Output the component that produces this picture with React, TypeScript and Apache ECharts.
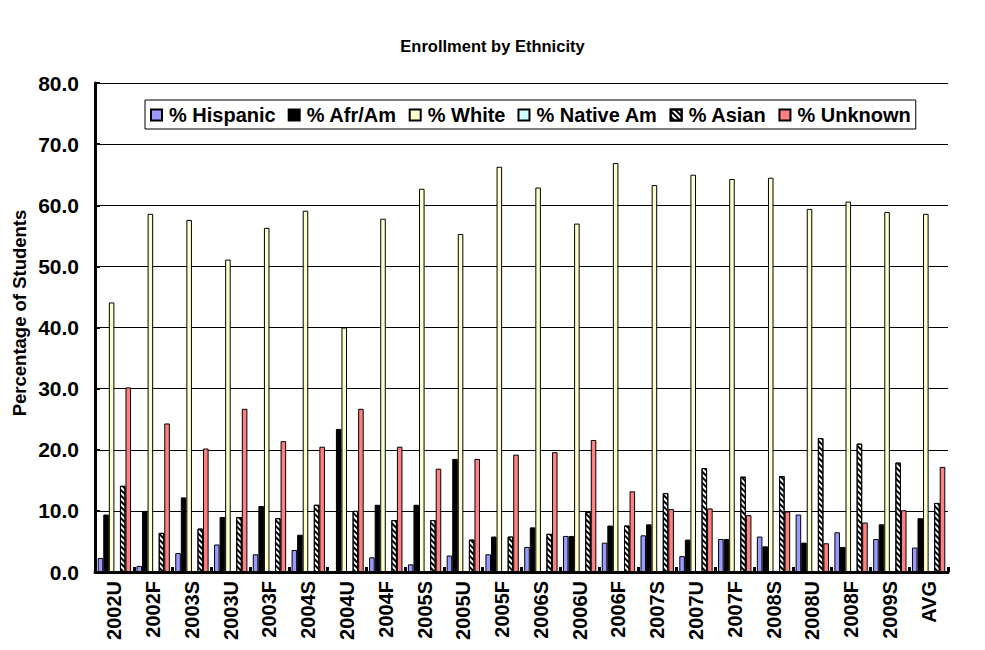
import React, { useEffect, useRef } from "react";
import * as echarts from "echarts";

const categories = ["2002U","2002F","2003S","2003U","2003F","2004S","2004U","2004F","2005S","2005U","2005F","2006S","2006U","2006F","2007S","2007U","2007F","2008S","2008U","2008F","2009S","AVG"];
const hispanic = [2.3, 1.0, 3.1, 4.5, 2.9, 3.6, 0, 2.4, 1.25, 2.7, 2.9, 4.1, 5.9, 4.8, 6.0, 2.6, 5.4, 5.8, 9.4, 6.5, 5.4, 4.0];
const afrAm = [9.4, 10.0, 12.2, 9.0, 10.8, 6.1, 23.4, 11.0, 11.0, 18.5, 5.8, 7.3, 5.9, 7.6, 7.8, 5.3, 5.4, 4.2, 4.8, 4.1, 7.8, 8.8];
const white = [44.1, 58.6, 57.6, 51.1, 56.3, 59.1, 40.0, 57.8, 62.7, 55.3, 66.3, 62.9, 57.0, 66.9, 63.3, 65.0, 64.3, 64.5, 59.4, 60.6, 58.9, 58.6];
const nativeAm = [0, 0, 0, 0, 0, 0, 0, 0, 0, 0, 0, 0, 0, 0, 0, 0, 0, 0, 0, 0, 0, 0];
const asian = [14.1, 6.4, 7.1, 9.0, 8.8, 11.0, 10.0, 8.5, 8.5, 5.3, 5.8, 6.25, 9.8, 7.6, 12.9, 17.0, 15.6, 15.7, 21.9, 21.0, 17.9, 11.3];
const unknown = [30.2, 24.3, 20.2, 26.7, 21.4, 20.5, 26.7, 20.5, 16.9, 18.5, 19.2, 19.6, 21.6, 13.2, 10.3, 10.4, 9.3, 9.9, 4.7, 8.1, 10.1, 17.2];
const yTicks = [0, 10, 20, 30, 40, 50, 60, 70, 80];

const FONT = "'Liberation Sans', Arial, sans-serif";

export default function App() {
  const ref = useRef<HTMLDivElement>(null);
  useEffect(() => {
    document.body.style.margin = "0";
    const chart = echarts.init(ref.current!, null, { renderer: "svg" });
    const bar = (name: string, data: number[], color: string, extra: any = {}) => ({
      name,
      type: "bar",
      data,
      barGap: "0%",
      barCategoryGap: "14%",
      itemStyle: { color, borderColor: "#000", borderWidth: 1, ...extra },
    });
    chart.setOption({
      animation: false,
      backgroundColor: "#fff",
      textStyle: { fontFamily: FONT },
      title: {
        text: "Enrollment by Ethnicity",
        left: "center",
        top: 32,
        textStyle: { fontFamily: FONT, fontSize: 16.5, fontWeight: "bold", color: "#000" },
      },
      legend: {
        left: 145,
        top: 100,
        padding: [5, 5, 4, 5],
        itemGap: 12,
        itemWidth: 11,
        itemHeight: 11,
        borderColor: "#000",
        borderWidth: 1,
        backgroundColor: "#fff",
        icon: "rect",
        textStyle: { fontFamily: FONT, fontSize: 20, fontWeight: "bold", color: "#000", padding: [0, 0, 0, 2] },
      },
      graphic: [
        {
          type: "text",
          x: 19,
          y: 313,
          rotation: Math.PI / 2,
          style: {
            text: "Percentage of Students",
            fontFamily: FONT,
            fontSize: 18.5,
            fontWeight: "bold",
            fill: "#000",
            textAlign: "center",
            textVerticalAlign: "middle",
          },
        },
      ],
      grid: { left: 95, right: 37, top: 83, bottom: 78, containLabel: false },
      xAxis: {
        type: "category",
        data: categories,
        axisLine: { lineStyle: { color: "#000", width: 3 } },
        axisTick: { show: true, inside: true, length: 5, lineStyle: { color: "#000", width: 3 } },
        axisLabel: { rotate: 90, interval: 0, margin: 9, fontFamily: FONT, fontSize: 20, fontWeight: "bold", color: "#000" },
      },
      yAxis: {
        type: "value",
        min: yTicks[0],
        max: yTicks[yTicks.length - 1],
        interval: 10,
        axisLine: { show: true, lineStyle: { color: "#000", width: 3 } },
        axisTick: { show: true, inside: true, length: 5, lineStyle: { color: "#000", width: 2 } },
        axisLabel: { formatter: (v: number) => v.toFixed(1), margin: 16, fontFamily: FONT, fontSize: 21, fontWeight: "bold", color: "#000" },
        splitLine: { lineStyle: { color: "#000", width: 1 } },
      },
      series: [
        bar("% Hispanic", hispanic, "#9999FF"),
        bar("% Afr/Am", afrAm, "#000000"),
        bar("% White", white, "#FFFFCC"),
        bar("% Native Am", nativeAm, "#CCFFFF"),
        bar("% Asian", asian, "#FFFFFF", {
          decal: {
            symbol: "rect",
            symbolSize: 1,
            color: "#000",
            dashArrayX: [1, 0],
            dashArrayY: [2, 2],
            rotation: Math.PI / 4,
          },
        }),
        bar("% Unknown", unknown, "#FF8080"),
      ],
    });
    return () => chart.dispose();
  }, []);
  return <div ref={ref} style={{ width: 985, height: 650 }} />;
}
